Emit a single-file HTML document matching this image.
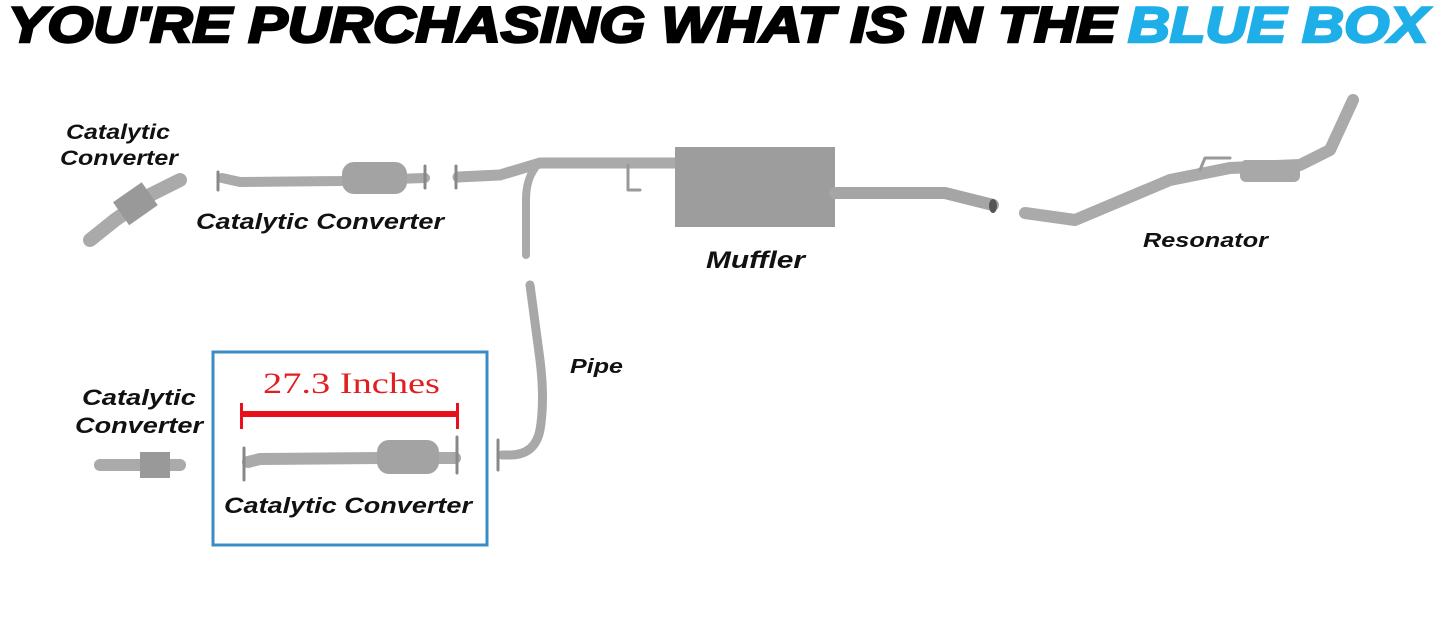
<!DOCTYPE html>
<html><head><meta charset="utf-8"><style>
html,body{margin:0;padding:0;background:#fff;}
svg{display:block}
.l{font-family:"Liberation Sans",sans-serif;font-weight:bold;font-style:italic;fill:#111;}
</style></head><body>
<svg width="1445" height="619" viewBox="0 0 1445 619" xmlns="http://www.w3.org/2000/svg">
<text x="8" y="42" class="l" font-size="50" textLength="1108" lengthAdjust="spacingAndGlyphs" style="fill:#000;stroke:#000;stroke-width:2.5">YOU'RE PURCHASING WHAT IS IN THE</text>
<text x="1128" y="42" class="l" font-size="50" textLength="300" lengthAdjust="spacingAndGlyphs" style="fill:#1eaee8;stroke:#1eaee8;stroke-width:2.5">BLUE BOX</text>

<g fill="none" stroke-linecap="round" stroke-linejoin="round">
<path d="M90 240 L115 220 L150 195 L180 180" stroke="#aaa" stroke-width="14"/>
<rect x="118" y="190" width="35" height="28" fill="#999" stroke="none" transform="rotate(-35 135 204)"/>
<path d="M222 178 L240 182 L340 181 L425 178" stroke="#aaa" stroke-width="10"/>
<rect x="342" y="162" width="65" height="32" rx="12" fill="#a3a3a3" stroke="none"/>
<path d="M218 172 V190 M425 166 V188" stroke="#888" stroke-width="3"/>
<path d="M458 177 L500 175 L540 163 L680 163" stroke="#aaa" stroke-width="11"/>
<path d="M456 166 V188" stroke="#888" stroke-width="3"/>
<path d="M535 168 Q526 180 526 200 L526 255" stroke="#aaa" stroke-width="8"/>
<path d="M628 165 V190 H640" stroke="#999" stroke-width="3"/>
<rect x="675" y="147" width="160" height="80" fill="#9d9d9d" stroke="none"/>
<path d="M835 193 L945 193 L993 205" stroke="#a5a5a5" stroke-width="12"/>
<ellipse cx="993" cy="206" rx="4" ry="7" fill="#555" stroke="none"/>
<path d="M1025 213 L1075 220 L1170 180 L1230 168 L1300 165 L1330 150 L1353 100" stroke="#aaa" stroke-width="12"/>
<rect x="1240" y="160" width="60" height="22" rx="6" fill="#a8a8a8" stroke="none"/>
<path d="M1200 170 L1205 158 H1230" stroke="#999" stroke-width="3"/>
<path d="M530 285 L540 360 Q545 400 540 430 Q535 455 510 455 L502 455" stroke="#a8a8a8" stroke-width="9"/>
<path d="M498 440 V470" stroke="#888" stroke-width="3"/>
<path d="M100 465 H180" stroke="#aaa" stroke-width="12"/>
<rect x="140" y="452" width="30" height="26" fill="#999" stroke="none"/>
<path d="M248 462 L260 459 L390 458 L455 458" stroke="#aaa" stroke-width="12"/>
<rect x="377" y="440" width="62" height="34" rx="12" fill="#a3a3a3" stroke="none"/>
<path d="M244 448 V480 M457 437 V473" stroke="#888" stroke-width="3"/>
</g>

<rect x="213" y="352" width="274" height="193" fill="none" stroke="#3a8cc4" stroke-width="3"/>
<text x="263" y="393" font-family="Liberation Serif,serif" font-size="30" fill="#e02020" textLength="177" lengthAdjust="spacingAndGlyphs">27.3 Inches</text>
<rect x="241" y="411" width="218" height="6" fill="#e8101a"/>
<rect x="240" y="403" width="3" height="26" fill="#e8101a"/>
<rect x="456" y="403" width="3" height="26" fill="#e8101a"/>

<text x="66" y="139" class="l" font-size="21" textLength="104" lengthAdjust="spacingAndGlyphs">Catalytic</text>
<text x="60" y="165" class="l" font-size="21" textLength="118" lengthAdjust="spacingAndGlyphs">Converter</text>
<text x="196" y="229" class="l" font-size="22" textLength="248" lengthAdjust="spacingAndGlyphs">Catalytic Converter</text>
<text x="706" y="268" class="l" font-size="24" textLength="99" lengthAdjust="spacingAndGlyphs">Muffler</text>
<text x="1143" y="247" class="l" font-size="20" textLength="125" lengthAdjust="spacingAndGlyphs">Resonator</text>
<text x="570" y="373" class="l" font-size="20" textLength="53" lengthAdjust="spacingAndGlyphs">Pipe</text>
<text x="82" y="405" class="l" font-size="22" textLength="114" lengthAdjust="spacingAndGlyphs">Catalytic</text>
<text x="75" y="433" class="l" font-size="22" textLength="128" lengthAdjust="spacingAndGlyphs">Converter</text>
<text x="224" y="513" class="l" font-size="22" textLength="248" lengthAdjust="spacingAndGlyphs">Catalytic Converter</text>
</svg>
</body></html>
